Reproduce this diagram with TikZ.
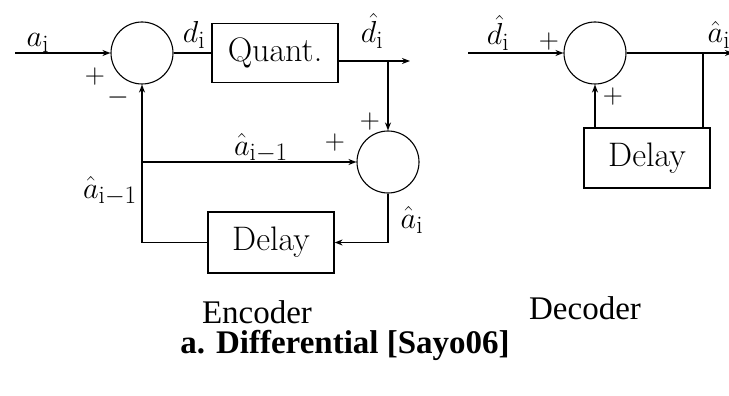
\documentclass[tikz,border=0pt]{standalone}
\usepackage{fontspec}
\newfontfamily\capfont{Liberation Serif}
\usetikzlibrary{arrows.meta}
\newcommand{\mlab}[1]{\scalebox{1.22}{$#1$}}
\newcommand{\msgn}[1]{\scalebox{1.12}{$#1$}}
\begin{document}
\begin{tikzpicture}[x=1pt,y=-1pt,
  sum/.style={draw, circle, minimum size=62pt, inner sep=0pt, line width=1.1pt},
  blk/.style={draw, rectangle, line width=1.2pt, minimum width=126pt, minimum height=59pt, inner sep=0pt, font=\fontsize{34}{40}\selectfont},
  wire/.style={line width=1.4pt},
  arr/.style={wire, -{Stealth[length=8pt,width=6pt]}},
  lbl/.style={font=\fontsize{24.88}{30}\selectfont, inner sep=0pt, anchor=base},
  sgn/.style={font=\fontsize{24.88}{30}\selectfont, inner sep=0pt},
  captext/.style={font=\capfont\fontsize{33}{38}\selectfont, inner sep=0pt}]
\useasboundingbox (0,0) rectangle (729,396);
% ---------- Encoder ----------
\coordinate (in1) at (15,53);
\node[sum] (c1) at (142,53) {};
\node[blk] (q) at (275,53) {Quant.};
\coordinate (b1) at (388,61);
\coordinate (o1) at (410,61);
\node[sum] (c2) at (388,162) {};
\node[blk, minimum height=61pt] (d1) at (271,242.5) {Delay};
\coordinate (f1) at (142,162);

\draw[arr] (in1) -- (c1.west);
\draw[wire] (c1.east) -- (q.west);
\draw[arr] ([yshift=-8pt]q.east) -- (o1);
\draw[arr] (b1) -- (c2.north);
\draw[arr] (c2.south) |- (d1.east);
\draw[arr] (d1.west) -| (c1.south);
\draw[arr] (f1) -- (c2.west);

\node[lbl] at (38,47) {\mlab{a_{\mathrm{i}}}};
\node[sgn] at (95,77) {\msgn{+}};
\node[sgn] at (118,98) {\msgn{-}};
\node[lbl] at (194,43) {\mlab{d_{\mathrm{i}}}};
\node[lbl] at (372,43) {\mlab{\hat{d}_{\mathrm{i}}}};
\node[sgn] at (370,122) {\msgn{+}};
\node[sgn] at (335,143) {\msgn{+}};
\node[lbl] at (261,155) {\mlab{\hat{a}_{\mathrm{i}-1}}};
\node[lbl] at (110,198) {\mlab{\hat{a}_{\mathrm{i}-1}}};
\node[lbl] at (412,228) {\mlab{\hat{a}_{\mathrm{i}}}};

% ---------- Decoder ----------
\coordinate (in2) at (468,53);
\node[sum] (c3) at (595,53) {};
\coordinate (b2) at (703,53);
\coordinate (o2) at (733,53);
\node[blk, minimum height=60pt] (d2) at (647,158) {Delay};

\draw[arr] (in2) -- (c3.west);
\draw[arr] (c3.east) -- (o2);
\draw[wire] (b2) -- (b2 |- d2.north);
\draw[arr] (c3.south |- d2.north) -- (c3.south);

\node[lbl] at (498,45) {\mlab{\hat{d}_{\mathrm{i}}}};
\node[sgn] at (549,42) {\msgn{+}};
\node[lbl] at (719,43) {\mlab{\hat{a}_{\mathrm{i}}}};
\node[sgn] at (613,97) {\msgn{+}};

% ---------- Captions ----------
\node[captext] (enc) at (257,312) {Encoder};
\node[captext] (dec) at (585,308) {Decoder};
\node[captext, font=\capfont\bfseries\fontsize{33}{38}\selectfont] (tit) at (345,345) {a. Differential [Sayo06]};
\end{tikzpicture}
\end{document}
